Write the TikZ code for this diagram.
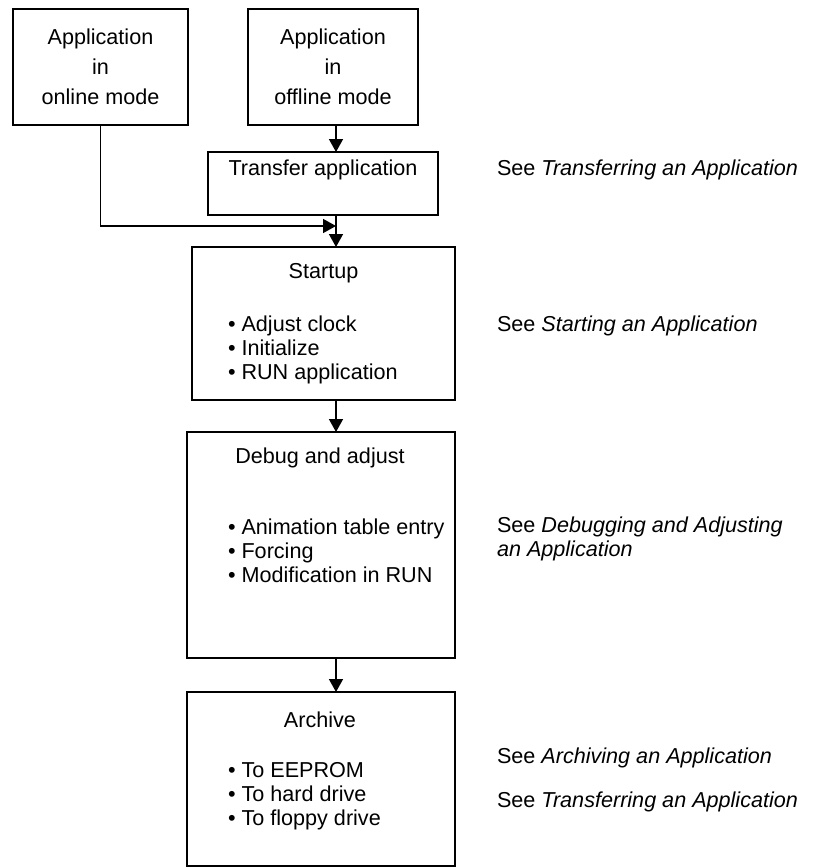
\documentclass[tikz,border=0pt]{standalone}
\usepackage{fontspec}
\setmainfont{Liberation Sans}
\usetikzlibrary{arrows.meta}
\begin{document}
\begin{tikzpicture}[x=1pt,y=-1pt,
  every node/.style={font=\fontsize{21.6}{24}\selectfont, inner sep=0pt, outer sep=0pt},
  box/.style={draw, line width=2.5pt, anchor=north west},
  title/.style={align=center, font=\fontsize{21.6}{30}\selectfont},
  items/.style={anchor=west, align=left},
  seealso/.style={anchor=west, align=left},
  arr/.style={line width=1.6pt, -{Triangle[length=13pt,width=14pt]}},
  ]
\useasboundingbox (0,0) rectangle (814,868);

% process boxes
\node[box, minimum width=175pt, minimum height=116pt] (online)   at (13,9)   {};
\node[box, minimum width=170pt, minimum height=116pt] (offline)  at (248,9)  {};
\node[box, minimum width=230pt, minimum height=63pt]  (transfer) at (208,152) {};
\node[box, minimum width=263pt, minimum height=153pt] (startup)  at (192,247) {};
\node[box, minimum width=268pt, minimum height=226pt] (debug)    at (187,432) {};
\node[box, minimum width=268pt, minimum height=174pt] (archive)  at (187,692) {};

% box contents
\node[title] (onlinetxt)  at (100.5,67) {Application\\in\\online mode};
\node[title] (offlinetxt) at (333,67)   {Application\\in\\offline mode};
\node (transfertxt) at (323,170) {Transfer application};

\node (startuptitle) at (323.5,273) {Startup};
\node[items] (startupitems) at (228,350) {\textbullet\ Adjust clock\\\textbullet\ Initialize\\\textbullet\ RUN application};

\node (debugtitle) at (320,458) {Debug and adjust};
\node[items] (debugitems) at (228,551) {\textbullet\ Animation table entry\\\textbullet\ Forcing\\\textbullet\ Modification in RUN};

\node (archivetitle) at (320,720) {Archive};
\node[items] (archiveitems) at (228,796) {\textbullet\ To EEPROM\\\textbullet\ To hard drive\\\textbullet\ To floppy drive};

% cross references
\node[seealso] (see1) at (497,170) {See \textit{Transferring an Application}};
\node[seealso] (see2) at (497,326) {See \textit{Starting an Application}};
\node[seealso] (see3) at (497,539) {See \textit{Debugging and Adjusting}\\\textit{an Application}};
\node[seealso] (see4) at (497,758) {See \textit{Archiving an Application}};
\node[seealso] (see5) at (497,802) {See \textit{Transferring an Application}};

% flow connectors along one vertical spine
\coordinate (spine) at (336,0);
\coordinate (join) at (336,226);
\draw[arr] (offline.south -| spine) -- (transfer.north -| spine);
\draw[arr] (online.south) |- (join);
\draw[arr] (transfer.south -| spine) -- (startup.north -| spine);
\draw[arr] (startup.south -| spine) -- (debug.north -| spine);
\draw[arr] (debug.south -| spine) -- (archive.north -| spine);
\end{tikzpicture}
\end{document}
